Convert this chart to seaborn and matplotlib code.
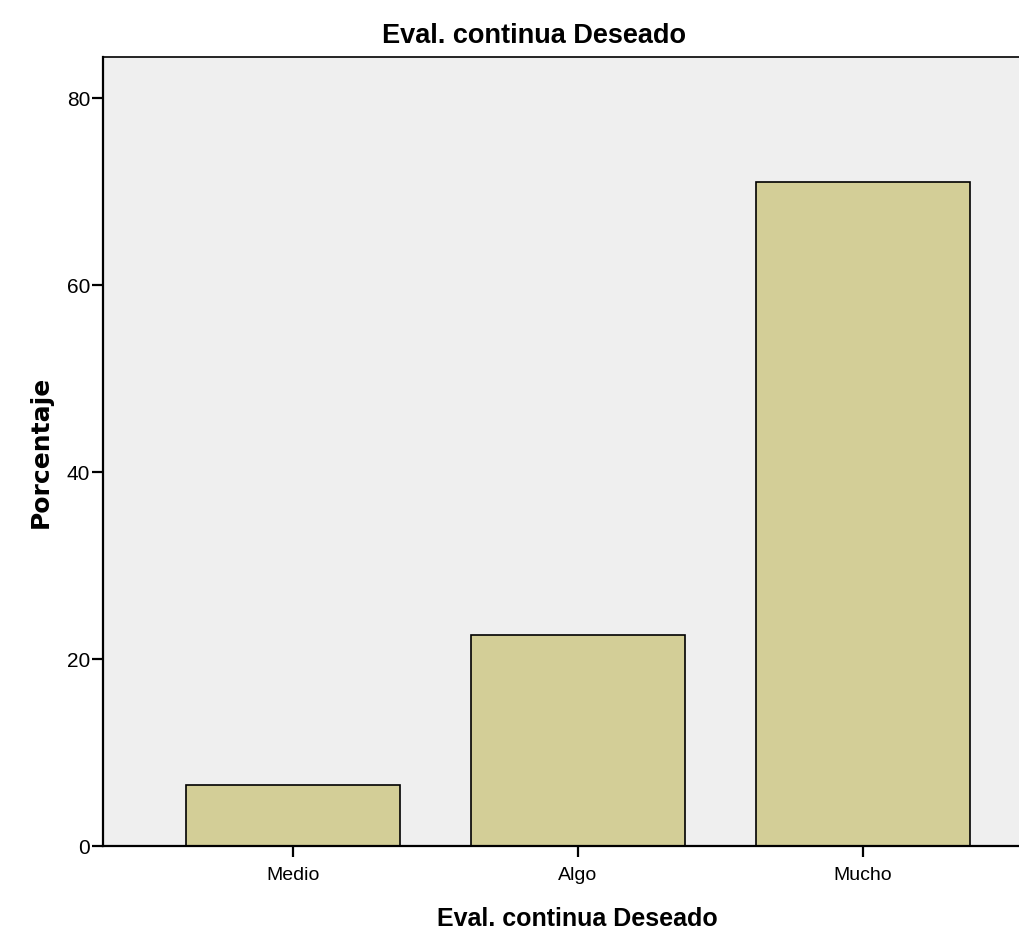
import matplotlib
matplotlib.use("Agg")
import matplotlib.pyplot as plt
import seaborn as sns
import pandas as pd

categories = ["Medio", "Algo", "Mucho"]
values = [6.5, 22.6, 71.0]
yticks = [0, 20, 40, 60, 80]

sns.set_style("white")
plt.rcParams["font.family"] = ["Liberation Sans Narrow", "Liberation Sans", "DejaVu Sans"]
for k in ["text.color", "axes.labelcolor", "xtick.color", "ytick.color"]:
    plt.rcParams[k] = "black"

df = pd.DataFrame({"cat": categories, "val": values})
fig = plt.figure(figsize=(10.2, 9.33), dpi=100)
ax = fig.add_axes([102.7/1020, 87/933, (1053-102.7)/1020, (846-57)/933])
ax.set_facecolor("#EFEFEF")
sns.barplot(data=df, x="cat", y="val", color="#D3CE97", edgecolor="black",
            linewidth=1.2, width=0.75, saturation=1, ax=ax)
ax.set_xlim(-0.668, 2.668)
ax.set_ylim(0, 84.4)
ax.set_yticks(yticks)
ax.set_yticklabels([str(t) for t in yticks])
for s in ["left", "bottom"]:
    ax.spines[s].set_linewidth(1.6)
    ax.spines[s].set_color("black")
ax.spines["top"].set_linewidth(1.2)
ax.spines["top"].set_color("black")
ax.spines["right"].set_visible(False)
ax.tick_params(axis="y", direction="out", length=8, width=1.6, labelsize=15, left=True, pad=1)
ax.tick_params(axis="x", direction="out", length=8, width=1.6, labelsize=14, bottom=True, pad=7)
ax.set_xlabel("Eval. continua Deseado", fontsize=18, fontweight="bold", labelpad=17,
              family=["Liberation Sans", "DejaVu Sans"])
ax.set_ylabel("Porcentaje", fontsize=18, fontweight="bold", labelpad=10, family=["DejaVu Sans"])
fig.text(534/1020, 1-36/933, "Eval. continua Deseado", ha="center", va="center",
         fontsize=19.5, fontweight="bold", family=["Liberation Sans", "DejaVu Sans"])
fig.savefig("out.png", dpi=100)
